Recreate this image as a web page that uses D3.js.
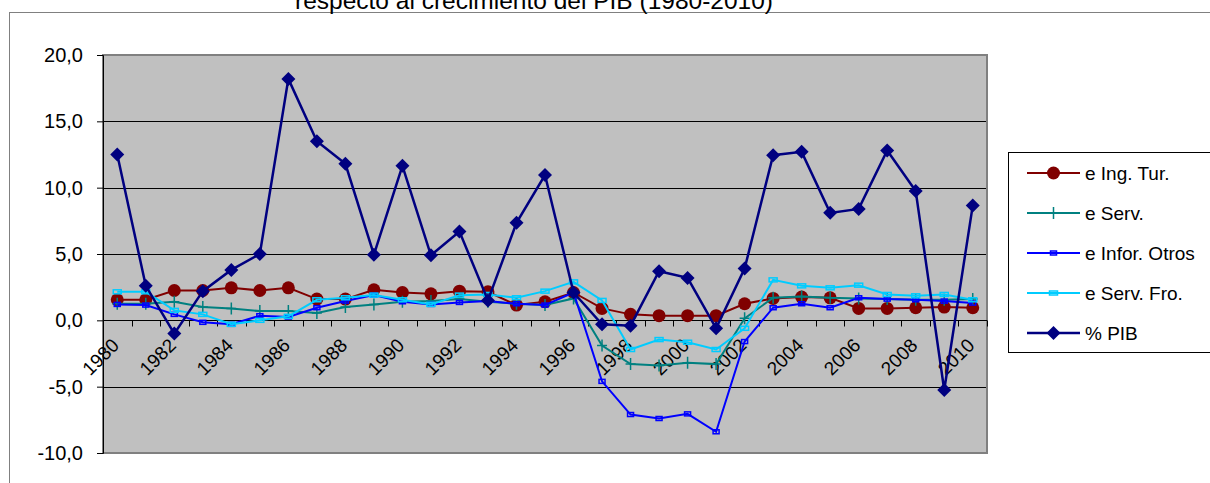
<!DOCTYPE html>
<html>
<head>
<meta charset="utf-8">
<script src="https://cdn.jsdelivr.net/npm/d3@7"></script>
<style>
  body { margin: 0; background: #fff; }
  svg { display: block; font-family: Arial, "Liberation Sans", sans-serif; }
</style>
</head>
<body>
<svg id="grafico" width="1210" height="483"></svg>
<script>
const anos = d3.range(1980, 2011);
const ing_tur = [1.55, 1.55, 2.25, 2.25, 2.45, 2.25, 2.45, 1.6, 1.6, 2.3, 2.1,
  2.0, 2.2, 2.15, 1.15, 1.4, 2.1, 0.9, 0.45, 0.35, 0.35, 0.35,
  1.25, 1.65, 1.75, 1.7, 0.9, 0.9, 0.95, 1.0, 0.95];
const serv = [1.25, 1.25, 1.4, 1.0, 0.9, 0.7, 0.7, 0.55, 1.0, 1.2, 1.4,
  1.45, 1.6, 1.4, 1.25, 1.15, 1.65, -1.9, -3.3, -3.4, -3.2, -3.3,
  0.15, 1.7, 1.8, 1.7, 1.65, 1.6, 1.55, 1.55, 1.6];
const infor_otros = [1.2, 1.15, 0.45, -0.15, -0.3, 0.35, 0.25, 0.95, 1.45, 1.9, 1.4,
  1.2, 1.35, 1.45, 1.25, 1.15, 2.1, -4.6, -7.1, -7.4, -7.05, -8.4,
  -1.6, 0.95, 1.25, 0.95, 1.7, 1.6, 1.55, 1.45, 1.3];
const serv_fro = [2.15, 2.15, 0.75, 0.45, -0.3, 0.0, 0.3, 1.55, 1.7, 1.9, 1.55,
  1.2, 1.9, 1.95, 1.7, 2.2, 2.9, 1.5, -2.2, -1.45, -1.65, -2.2,
  -0.6, 3.05, 2.6, 2.45, 2.65, 1.95, 1.85, 1.95, 1.55];
const pib = [12.5, 2.6, -1.0, 2.2, 3.8, 5.0, 18.2, 13.5, 11.8, 4.95, 11.65,
  4.9, 6.7, 1.5, 7.35, 10.95, 2.1, -0.3, -0.4, 3.7, 3.2, -0.6,
  3.9, 12.45, 12.7, 8.1, 8.4, 12.8, 9.75, -5.25, 8.65];
const series_nomes = ["e Ing. Tur.", "e Serv.", "e Infor. Otros", "e Serv. Fro.", "% PIB"];
const ticks_y = [-10, -5, 0, 5, 10, 15, 20];
const titulo = "respecto al crecimiento del PIB (1980-2010)";

const series = [
  { nome: series_nomes[0], valores: ing_tur, cor: "#800000", marca: "circulo" },
  { nome: series_nomes[1], valores: serv, cor: "#008080", marca: "mais" },
  { nome: series_nomes[2], valores: infor_otros, cor: "#0000FF", marca: "quad_peq" },
  { nome: series_nomes[3], valores: serv_fro, cor: "#00CCFF", marca: "quad" },
  { nome: series_nomes[4], valores: pib, cor: "#000080", marca: "losango" }
];

const svg = d3.select("#grafico");
const area = { esq: 103, dir: 987, topo: 55, base: 453 };

const x = d3.scaleBand().domain(anos).range([area.esq, area.dir]).padding(0);
const y = d3.scaleLinear().domain([-10, 20]).range([area.base, area.topo]);
const cx = (a) => x(a) + x.bandwidth() / 2;

const local = d3.formatLocale({ decimal: ",", thousands: ".", grouping: [3], currency: ["", ""], minus: "-" });
const formato = local.format(".1f");

// borda da area do grafico
svg.append("rect")
  .attr("x", 9.5).attr("y", 12.5)
  .attr("width", 1220).attr("height", 500)
  .attr("fill", "#fff").attr("stroke", "#808080").attr("stroke-width", 1);

// titulo (cortado no topo, como no original)
svg.append("text")
  .attr("x", 534).attr("y", 9)
  .attr("text-anchor", "middle")
  .attr("font-size", 24.5)
  .text(titulo);

// fundo cinza
svg.append("rect")
  .attr("x", area.esq).attr("y", area.topo)
  .attr("width", area.dir - area.esq).attr("height", area.base - area.topo)
  .attr("fill", "#C0C0C0");

// grade
svg.append("g").selectAll("line")
  .data(ticks_y.filter(t => t !== 0 && t !== -10 && t !== 20))
  .enter().append("line")
  .attr("x1", area.esq).attr("x2", area.dir)
  .attr("y1", d => Math.round(y(d)) + 0.5).attr("y2", d => Math.round(y(d)) + 0.5)
  .attr("stroke", "#000").attr("stroke-width", 1);

svg.append("rect")
  .attr("x", area.esq).attr("y", area.topo)
  .attr("width", area.dir - area.esq).attr("height", area.base - area.topo)
  .attr("fill", "none").attr("stroke", "#808080").attr("stroke-width", 2);

// eixo y
const eixo_y = d3.axisLeft(y).tickValues(ticks_y).tickFormat(formato).tickSize(6).tickPadding(14);
const gy = svg.append("g").attr("transform", `translate(${area.esq},0)`).call(eixo_y);
gy.select(".domain").attr("stroke", "#000");
gy.selectAll(".tick line").attr("stroke", "#000");
gy.selectAll("text").attr("font-size", 20).attr("fill", "#000").attr("font-family", "Arial, 'Liberation Sans', sans-serif");

// eixo x na linha do zero
const y0 = Math.round(y(0)) + 0.5;
svg.append("line")
  .attr("x1", area.esq).attr("x2", area.dir)
  .attr("y1", y0).attr("y2", y0)
  .attr("stroke", "#000");
const limites = anos.map(a => x(a)).concat([area.dir]);
svg.append("g").selectAll("line")
  .data(limites)
  .enter().append("line")
  .attr("x1", d => Math.round(d) + 0.5).attr("x2", d => Math.round(d) + 0.5)
  .attr("y1", y0).attr("y2", y0 + 6)
  .attr("stroke", "#000");

svg.append("g").selectAll("text")
  .data(anos.filter(a => a % 2 === 0))
  .enter().append("text")
  .attr("transform", d => `translate(${cx(d) + 3},${y0 + 26}) rotate(-45)`)
  .attr("text-anchor", "end")
  .attr("font-size", 19)
  .text(d => d);

// marcadores
function desenhar_marca(g, tipo, cor, px, py) {
  if (tipo === "circulo") {
    g.append("circle").attr("cx", px).attr("cy", py).attr("r", 6.5).attr("fill", cor);
  } else if (tipo === "losango") {
    g.append("path").attr("d", `M${px},${py - 7}L${px + 7},${py}L${px},${py + 7}L${px - 7},${py}Z`).attr("fill", cor);
  } else if (tipo === "mais") {
    g.append("path").attr("d", `M${px - 5},${py}H${px + 5}M${px},${py - 6}V${py + 6}`)
      .attr("stroke", cor).attr("stroke-width", 1.5).attr("fill", "none");
  } else if (tipo === "quad_peq") {
    g.append("rect").attr("x", px - 3).attr("y", py - 2).attr("width", 6).attr("height", 4)
      .attr("fill", "none").attr("stroke", cor).attr("stroke-width", 1.5);
  } else if (tipo === "quad") {
    g.append("rect").attr("x", px - 4).attr("y", py - 2).attr("width", 8).attr("height", 4)
      .attr("fill", "none").attr("stroke", cor).attr("stroke-width", 1.5);
  }
}

const linha = d3.line().x((d, i) => cx(anos[i])).y(d => y(d));

series.forEach(s => {
  const g = svg.append("g");
  g.append("path")
    .attr("d", linha(s.valores))
    .attr("fill", "none")
    .attr("stroke", s.cor)
    .attr("stroke-width", s.marca === "losango" ? 2.5 : 2);
  s.valores.forEach((v, i) => desenhar_marca(g, s.marca, s.cor, cx(anos[i]), y(v)));
});

// legenda
const leg = svg.append("g");
leg.append("rect")
  .attr("x", 1008.5).attr("y", 152.5)
  .attr("width", 230).attr("height", 200)
  .attr("fill", "#fff").attr("stroke", "#000").attr("stroke-width", 1);
series.forEach((s, i) => {
  const ly = 173 + i * 40;
  const g = leg.append("g");
  g.append("line").attr("x1", 1027).attr("x2", 1080).attr("y1", ly).attr("y2", ly)
    .attr("stroke", s.cor).attr("stroke-width", s.marca === "losango" ? 2.5 : 2);
  desenhar_marca(g, s.marca, s.cor, 1053.5, ly);
  g.append("text").attr("x", 1085).attr("y", ly + 7).attr("font-size", 19).text(s.nome);
});
</script>
</body>
</html>
